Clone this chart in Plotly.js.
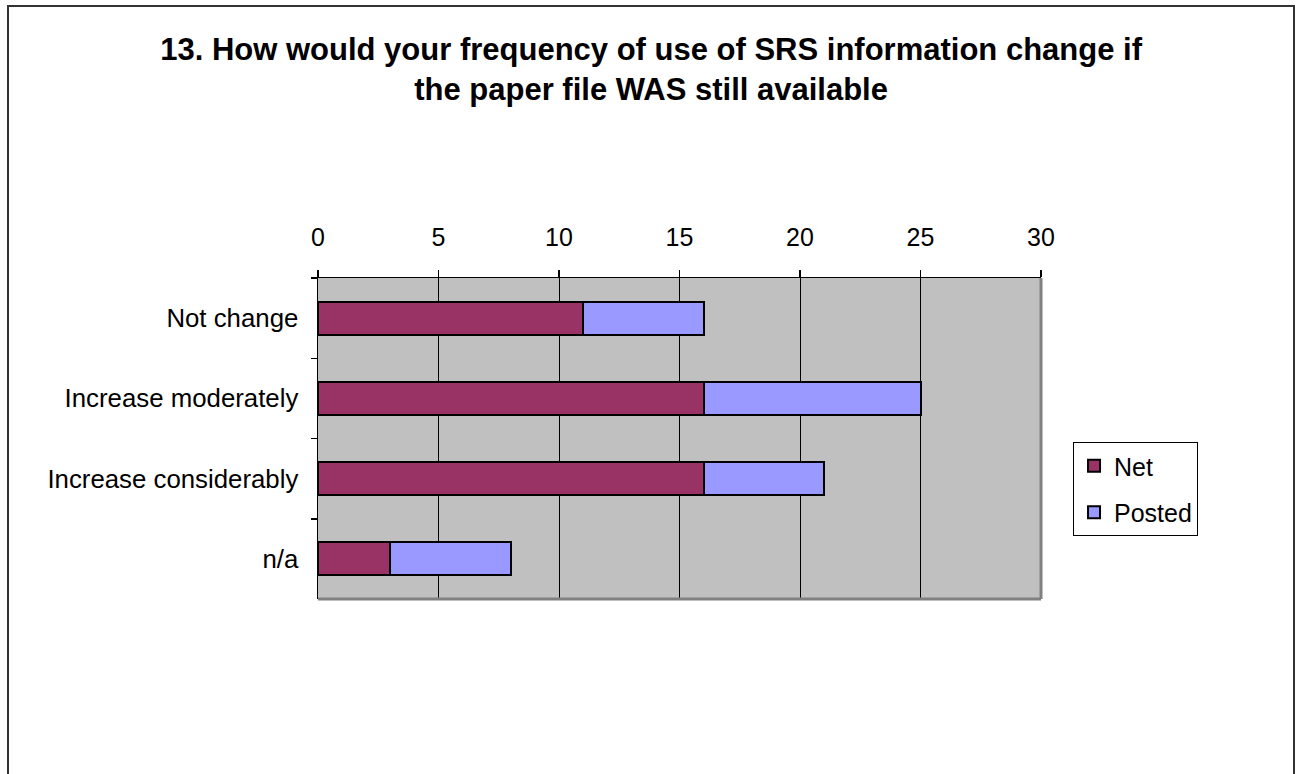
<!DOCTYPE html>
<html>
<head>
<meta charset="utf-8">
<script src="https://cdn.plot.ly/plotly-3.0.1.min.js"></script>
<style>
  html, body { margin: 0; padding: 0; background: #ffffff; }
  #chart { width: 1297px; height: 774px; }
</style>
</head>
<body>
<div id="chart"></div>
<script>
// Survey question 13: responses split by Net and Posted users
const categories = ["Not change", "Increase moderately", "Increase considerably", "n/a"];
const netValues = [11, 16, 16, 3];
const postedValues = [5, 9, 5, 5];
const xTicks = [0, 5, 10, 15, 20, 25, 30];

const FONT = '"Liberation Sans", Arial, Helvetica, sans-serif';

const traces = [
  {
    type: 'bar', orientation: 'h', name: 'Net',
    y: categories, x: netValues,
    marker: { color: '#993366', line: { color: '#000000', width: 2 } },
    legendgroup: 'net',
    hoverinfo: 'x+name'
  },
  {
    type: 'bar', orientation: 'h', name: 'Posted',
    y: categories, x: postedValues,
    marker: { color: '#9999FF', line: { color: '#000000', width: 2 } },
    legendgroup: 'posted',
    hoverinfo: 'x+name'
  }
];

const layout = {
  width: 1297, height: 774,
  paper_bgcolor: '#ffffff',
  plot_bgcolor: '#C0C0C0',
  font: { family: FONT, size: 25, color: '#000000' },
  margin: { l: 318, r: 256, t: 278, b: 175, pad: 0 },
  barmode: 'stack',
  bargap: 0.59,
  showlegend: true,
  title: {
    text: '<b>13. How would your frequency of use of SRS information change if<br>the paper file WAS still available</b>',
    font: { family: FONT, size: 31, color: '#000000' },
    x: 0.502, xanchor: 'center', xref: 'container',
    y: 0.923, yanchor: 'top', yref: 'container'
  },
  xaxis: {
    side: 'top',
    range: [0, 30],
    tickvals: xTicks,
    ticktext: xTicks.map(String),
    showgrid: true, gridcolor: '#000000', gridwidth: 1,
    zeroline: false,
    showline: true, linecolor: '#000000', linewidth: 1.5,
    ticks: 'outside', ticklen: 7, tickwidth: 1.5, tickcolor: '#000000',
    ticklabelstandoff: 14,
    tickfont: { family: FONT, size: 25, color: '#000000' },
    automargin: false, fixedrange: true
  },
  yaxis: {
    type: 'category',
    categoryorder: 'array', categoryarray: categories,
    autorange: 'reversed',
    tickson: 'boundaries',
    showgrid: false, zeroline: false,
    showline: true, linecolor: '#000000', linewidth: 1.5,
    ticks: 'outside', ticklen: 6, tickwidth: 1.5, tickcolor: '#000000',
    ticklabelstandoff: 13,
    tickfont: { family: FONT, size: 25.8, color: '#000000' },
    automargin: false, fixedrange: true
  },
  legend: {
    x: 1.0443, xanchor: 'left',
    y: 0.489, yanchor: 'top',
    bgcolor: '#ffffff',
    bordercolor: '#000000', borderwidth: 1,
    font: { family: FONT, size: 25, color: '#000000' },
    traceorder: 'grouped',
    tracegroupgap: 11,
    itemwidth: 30
  },
  shapes: [
    // grey frame on the right and bottom of the plot area
    { type: 'line', xref: 'paper', yref: 'paper', x0: 1, x1: 1, y0: 0, y1: 1,
      line: { color: '#808080', width: 3 } },
    { type: 'line', xref: 'paper', yref: 'paper', x0: 0, x1: 1, y0: 0, y1: 0,
      line: { color: '#808080', width: 3 } },
    // outer chart border
    { type: 'rect', xref: 'paper', yref: 'paper',
      x0: (8 - 318) / 723, x1: (1294 - 318) / 723,
      y0: (599 - 790) / 321, y1: (599 - 6) / 321,
      line: { color: '#333333', width: 2 }, fillcolor: 'rgba(0,0,0,0)', layer: 'above' }
  ]
};

Plotly.newPlot('chart', traces, layout, { displayModeBar: false, staticPlot: true });
</script>
</body>
</html>
